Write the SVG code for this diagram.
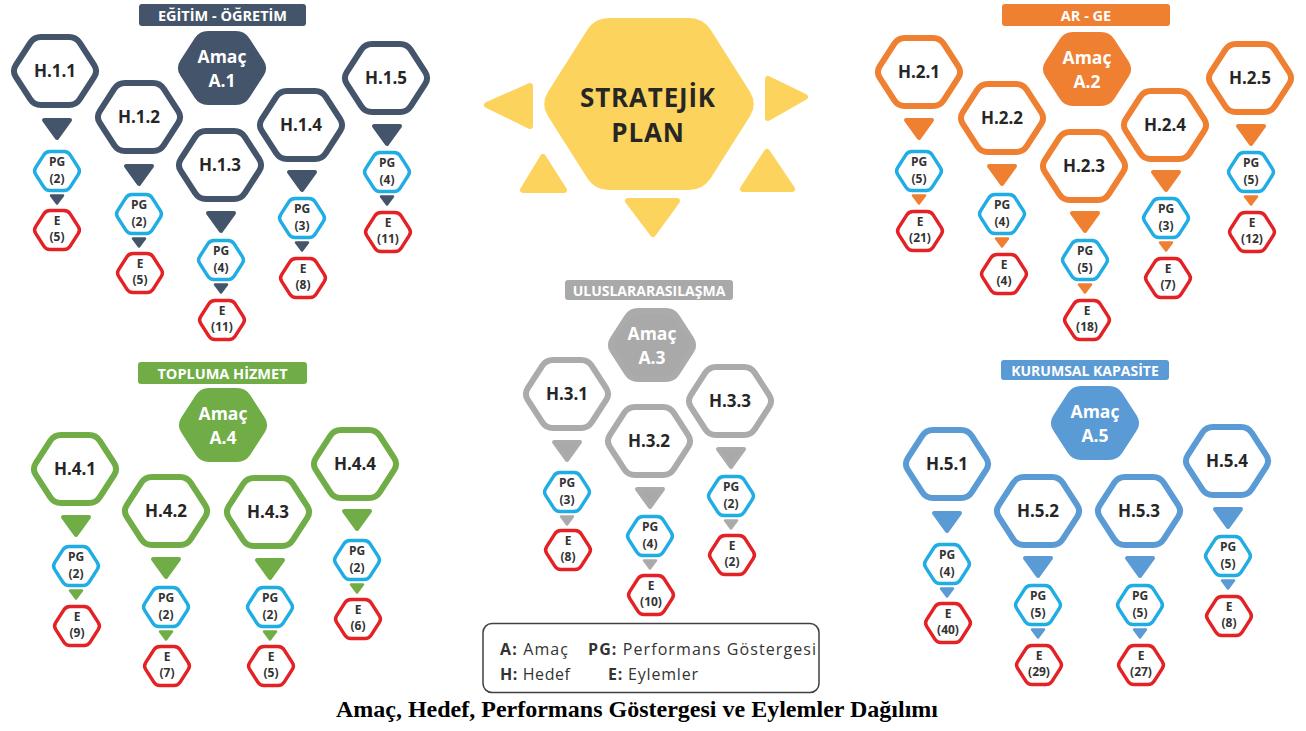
<svg xmlns="http://www.w3.org/2000/svg" xmlns:xlink="http://www.w3.org/1999/xlink" width="1306" height="731" viewBox="0 0 1306 731">
<style>
.hx{fill:#fff;stroke-width:6;stroke-linejoin:round}
.am{stroke-width:6;stroke-linejoin:round}
.pg{fill:#fff;stroke:#1fade4;stroke-width:3.5;stroke-linejoin:round}
.ev{fill:#fff;stroke:#e42226;stroke-width:3.5;stroke-linejoin:round}
.tb{stroke-width:4;stroke-linejoin:round}
.ts{stroke-width:2.5;stroke-linejoin:round}
.c1{stroke:#44546a}.f1{fill:#44546a}
.c2{stroke:#ef7f31}.f2{fill:#ef7f31}
.c3{stroke:#ababab}.f3{fill:#a9a9a9}
.c4{stroke:#70ad47}.f4{fill:#70ad47}
.c5{stroke:#5b9bd5}.f5{fill:#5b9bd5}
text{font-family:"Open Sans","DejaVu Sans",sans-serif;text-anchor:middle}
.ht{font-size:17px;font-weight:bold;fill:#262626}
.at{font-size:17.5px;font-weight:bold;fill:#fff}
.st{font-size:12px;font-weight:bold;fill:#333}
.tt{font-size:14.5px;font-weight:bold;fill:#fff}
.lg{font-size:16px;fill:#333;text-anchor:start}
.lb{font-weight:bold}
.cap{font-family:"Liberation Serif",serif;font-size:24px;font-weight:bold;fill:#000}
</style>
<defs>
<path id="hH" d="M-39.2,-5.9 L-24.8,-28.1 Q-21,-34 -14,-34 L14,-34 Q21,-34 24.8,-28.1 L39.2,-5.9 Q43,0 39.2,5.9 L24.8,28.1 Q21,34 14,34 L-14,34 Q-21,34 -24.8,28.1 L-39.2,5.9 Q-43,0 -39.2,-5.9Z"/>
<path id="hS" d="M-21.34,-3.37 L-13.16,-16.13 Q-11,-19.5 -7,-19.5 L7,-19.5 Q11,-19.5 13.16,-16.13 L21.34,-3.37 Q23.5,0 21.34,3.37 L13.16,16.13 Q11,19.5 7,19.5 L-7,19.5 Q-11,19.5 -13.16,16.13 L-21.34,3.37 Q-23.5,0 -21.34,-3.37Z"/>
<path id="tB" d="M-13,2 L13,2 L0,20Z"/>
<path id="tS" d="M-6,1.5 L6,1.5 L0,9.5Z"/>
</defs>
<rect width="1306" height="731" fill="#fff"/>

<g id="plan">
<path d="M551.43,93.87 L590.57,32.13 Q597,22 609,22 L689,22 Q701,22 707.43,32.13 L746.57,93.87 Q753,104 746.57,114.13 L707.43,175.87 Q701,186 689,186 L609,186 Q597,186 590.57,175.87 L551.43,114.13 Q545,104 551.43,93.87Z" fill="#fcd35c" stroke="#fcd35c" stroke-width="8" stroke-linejoin="round"/>
<g fill="#fcd35c" stroke="#fcd35c" stroke-width="6" stroke-linejoin="round">
<path d="M487,105 L530,86 L530,126Z"/>
<path d="M768,79 L768,118 L805,97Z"/>
<path d="M523,190 L564,190 L543,157Z"/>
<path d="M743,189 L792,189 L767,152Z"/>
<path d="M628,201 L677,201 L653,234Z"/>
</g>
<text x="648" y="107" style="font-size:26px;font-weight:bold;fill:#262626;letter-spacing:0.8px">STRATEJİK</text>
<text x="648" y="142" style="font-size:26px;font-weight:bold;fill:#262626;letter-spacing:0.8px">PLAN</text>
</g>

<g id="connectors">
<use href="#tB" x="57" y="118" class="tb c1 f1"/><use href="#tS" x="57" y="194" class="ts c1 f1"/>
<use href="#tB" x="139" y="164" class="tb c1 f1"/><use href="#tS" x="139" y="237" class="ts c1 f1"/>
<use href="#tB" x="221" y="211" class="tb c1 f1"/><use href="#tS" x="221" y="283" class="ts c1 f1"/>
<use href="#tB" x="302" y="170" class="tb c1 f1"/><use href="#tS" x="302" y="241" class="ts c1 f1"/>
<use href="#tB" x="387" y="124" class="tb c1 f1"/><use href="#tS" x="387" y="195" class="ts c1 f1"/>

<use href="#tB" x="919" y="118" class="tb c2 f2"/><use href="#tS" x="919" y="194" class="ts c2 f2"/>
<use href="#tB" x="1002" y="164" class="tb c2 f2"/><use href="#tS" x="1002" y="237" class="ts c2 f2"/>
<use href="#tB" x="1085" y="211" class="tb c2 f2"/><use href="#tS" x="1085" y="283" class="ts c2 f2"/>
<use href="#tB" x="1166" y="170" class="tb c2 f2"/><use href="#tS" x="1166" y="241" class="ts c2 f2"/>
<use href="#tB" x="1251" y="124" class="tb c2 f2"/><use href="#tS" x="1251" y="195" class="ts c2 f2"/>

<use href="#tB" x="567" y="440" class="tb c3 f3"/><use href="#tS" x="567" y="515" class="ts c3 f3"/>
<use href="#tB" x="650" y="487" class="tb c3 f3"/><use href="#tS" x="650" y="559" class="ts c3 f3"/>
<use href="#tB" x="731" y="447" class="tb c3 f3"/><use href="#tS" x="731" y="519" class="ts c3 f3"/>

<use href="#tB" x="76" y="515" class="tb c4 f4"/><use href="#tS" x="76" y="589" class="ts c4 f4"/>
<use href="#tB" x="166" y="557" class="tb c4 f4"/><use href="#tS" x="166" y="630" class="ts c4 f4"/>
<use href="#tB" x="270" y="558" class="tb c4 f4"/><use href="#tS" x="270" y="630" class="ts c4 f4"/>
<use href="#tB" x="357" y="509" class="tb c4 f4"/><use href="#tS" x="357" y="583" class="ts c4 f4"/>

<use href="#tB" x="947" y="511" class="tb c5 f5"/><use href="#tS" x="947" y="587" class="ts c5 f5"/>
<use href="#tB" x="1038" y="556" class="tb c5 f5"/><use href="#tS" x="1038" y="628" class="ts c5 f5"/>
<use href="#tB" x="1140" y="556" class="tb c5 f5"/><use href="#tS" x="1140" y="628" class="ts c5 f5"/>
<use href="#tB" x="1228" y="507" class="tb c5 f5"/><use href="#tS" x="1228" y="579" class="ts c5 f5"/>
</g>

<!-- Group 1 -->
<g id="title1"><rect x="139" y="4" width="167" height="22" rx="3" class="f1"/><text x="222.5" y="20.5" class="tt">EĞİTİM - ÖĞRETİM</text></g>
<g id="a1"><use href="#hH" x="222" y="68" class="am c1 f1"/><text x="222" y="63" class="at">Amaç</text><text x="222" y="87" class="at">A.1</text></g>
<g id="h11"><use href="#hH" x="55" y="71" class="hx c1"/><text x="55" y="77" class="ht">H.1.1</text></g>
<g id="pg11"><use href="#hS" x="57" y="171" class="pg"/><text x="57" y="166" class="st">PG</text><text x="57" y="183" class="st">(2)</text></g>
<g id="e11"><use href="#hS" x="57" y="230" class="ev"/><text x="57" y="225" class="st">E</text><text x="57" y="241" class="st">(5)</text></g>
<g id="h12"><use href="#hH" x="139" y="117" class="hx c1"/><text x="139" y="123" class="ht">H.1.2</text></g>
<g id="pg12"><use href="#hS" x="139" y="214" class="pg"/><text x="139" y="209" class="st">PG</text><text x="139" y="226" class="st">(2)</text></g>
<g id="e12"><use href="#hS" x="140" y="273" class="ev"/><text x="140" y="268" class="st">E</text><text x="140" y="284" class="st">(5)</text></g>
<g id="h13"><use href="#hH" x="220" y="165" class="hx c1"/><text x="220" y="171" class="ht">H.1.3</text></g>
<g id="pg13"><use href="#hS" x="221" y="260" class="pg"/><text x="221" y="255" class="st">PG</text><text x="221" y="272" class="st">(4)</text></g>
<g id="e13"><use href="#hS" x="222" y="320" class="ev"/><text x="222" y="315" class="st">E</text><text x="222" y="331" class="st">(11)</text></g>
<g id="h14"><use href="#hH" x="301" y="125" class="hx c1"/><text x="301" y="131" class="ht">H.1.4</text></g>
<g id="pg14"><use href="#hS" x="302" y="218" class="pg"/><text x="302" y="213" class="st">PG</text><text x="302" y="230" class="st">(3)</text></g>
<g id="e14"><use href="#hS" x="303" y="278" class="ev"/><text x="303" y="273" class="st">E</text><text x="303" y="289" class="st">(8)</text></g>
<g id="h15"><use href="#hH" x="386" y="78" class="hx c1"/><text x="386" y="84" class="ht">H.1.5</text></g>
<g id="pg15"><use href="#hS" x="387" y="172" class="pg"/><text x="387" y="167" class="st">PG</text><text x="387" y="184" class="st">(4)</text></g>
<g id="e15"><use href="#hS" x="388" y="232" class="ev"/><text x="388" y="227" class="st">E</text><text x="388" y="243" class="st">(11)</text></g>

<!-- Group 2 -->
<g id="title2"><rect x="1002" y="4" width="168" height="22" rx="3" class="f2"/><text x="1086" y="20.5" class="tt">AR - GE</text></g>
<g id="a2"><use href="#hH" x="1087" y="69" class="am c2 f2"/><text x="1087" y="64" class="at">Amaç</text><text x="1087" y="88" class="at">A.2</text></g>
<g id="h21"><use href="#hH" x="919" y="72" class="hx c2"/><text x="919" y="78" class="ht">H.2.1</text></g>
<g id="pg21"><use href="#hS" x="919" y="171" class="pg"/><text x="919" y="166" class="st">PG</text><text x="919" y="183" class="st">(5)</text></g>
<g id="e21"><use href="#hS" x="920" y="231" class="ev"/><text x="920" y="226" class="st">E</text><text x="920" y="242" class="st">(21)</text></g>
<g id="h22"><use href="#hH" x="1002" y="118" class="hx c2"/><text x="1002" y="124" class="ht">H.2.2</text></g>
<g id="pg22"><use href="#hS" x="1002" y="214" class="pg"/><text x="1002" y="209" class="st">PG</text><text x="1002" y="226" class="st">(4)</text></g>
<g id="e22"><use href="#hS" x="1004" y="274" class="ev"/><text x="1004" y="269" class="st">E</text><text x="1004" y="285" class="st">(4)</text></g>
<g id="h23"><use href="#hH" x="1084" y="166" class="hx c2"/><text x="1084" y="172" class="ht">H.2.3</text></g>
<g id="pg23"><use href="#hS" x="1085" y="260" class="pg"/><text x="1085" y="255" class="st">PG</text><text x="1085" y="272" class="st">(5)</text></g>
<g id="e23"><use href="#hS" x="1087" y="320" class="ev"/><text x="1087" y="315" class="st">E</text><text x="1087" y="331" class="st">(18)</text></g>
<g id="h24"><use href="#hH" x="1165" y="125" class="hx c2"/><text x="1165" y="131" class="ht">H.2.4</text></g>
<g id="pg24"><use href="#hS" x="1166" y="218" class="pg"/><text x="1166" y="213" class="st">PG</text><text x="1166" y="230" class="st">(3)</text></g>
<g id="e24"><use href="#hS" x="1168" y="278" class="ev"/><text x="1168" y="273" class="st">E</text><text x="1168" y="289" class="st">(7)</text></g>
<g id="h25"><use href="#hH" x="1250" y="78" class="hx c2"/><text x="1250" y="84" class="ht">H.2.5</text></g>
<g id="pg25"><use href="#hS" x="1251" y="172" class="pg"/><text x="1251" y="167" class="st">PG</text><text x="1251" y="184" class="st">(5)</text></g>
<g id="e25"><use href="#hS" x="1252" y="232" class="ev"/><text x="1252" y="227" class="st">E</text><text x="1252" y="243" class="st">(12)</text></g>

<!-- Group 3 -->
<g id="title3"><rect x="565" y="280" width="168" height="20" rx="3" class="f3"/><text x="649" y="295.5" class="tt" style="font-size:14px">ULUSLARARASILAŞMA</text></g>
<g id="a3"><use href="#hH" x="652" y="345" class="am c3 f3"/><text x="652" y="340" class="at">Amaç</text><text x="652" y="364" class="at">A.3</text></g>
<g id="h31"><use href="#hH" x="567" y="394" class="hx c3"/><text x="567" y="400" class="ht">H.3.1</text></g>
<g id="pg31"><use href="#hS" x="567" y="492" class="pg"/><text x="567" y="487" class="st">PG</text><text x="567" y="504" class="st">(3)</text></g>
<g id="e31"><use href="#hS" x="568" y="550" class="ev"/><text x="568" y="545" class="st">E</text><text x="568" y="561" class="st">(8)</text></g>
<g id="h32"><use href="#hH" x="649" y="441" class="hx c3"/><text x="649" y="447" class="ht">H.3.2</text></g>
<g id="pg32"><use href="#hS" x="650" y="536" class="pg"/><text x="650" y="531" class="st">PG</text><text x="650" y="548" class="st">(4)</text></g>
<g id="e32"><use href="#hS" x="651" y="595" class="ev"/><text x="651" y="590" class="st">E</text><text x="651" y="606" class="st">(10)</text></g>
<g id="h33"><use href="#hH" x="730" y="401" class="hx c3"/><text x="730" y="407" class="ht">H.3.3</text></g>
<g id="pg33"><use href="#hS" x="731" y="496" class="pg"/><text x="731" y="491" class="st">PG</text><text x="731" y="508" class="st">(2)</text></g>
<g id="e33"><use href="#hS" x="732" y="555" class="ev"/><text x="732" y="550" class="st">E</text><text x="732" y="566" class="st">(2)</text></g>

<!-- Group 4 -->
<g id="title4"><rect x="138" y="362" width="169" height="22" rx="3" class="f4"/><text x="222.5" y="378.5" class="tt">TOPLUMA HİZMET</text></g>
<g id="a4"><use href="#hH" x="223" y="425" class="am c4 f4"/><text x="223" y="420" class="at">Amaç</text><text x="223" y="444" class="at">A.4</text></g>
<g id="h41"><use href="#hH" x="75" y="469" class="hx c4"/><text x="75" y="475" class="ht">H.4.1</text></g>
<g id="pg41"><use href="#hS" x="76" y="566" class="pg"/><text x="76" y="561" class="st">PG</text><text x="76" y="578" class="st">(2)</text></g>
<g id="e41"><use href="#hS" x="77" y="626" class="ev"/><text x="77" y="621" class="st">E</text><text x="77" y="637" class="st">(9)</text></g>
<g id="h42"><use href="#hH" x="166" y="511" class="hx c4"/><text x="166" y="517" class="ht">H.4.2</text></g>
<g id="pg42"><use href="#hS" x="166" y="607" class="pg"/><text x="166" y="602" class="st">PG</text><text x="166" y="619" class="st">(2)</text></g>
<g id="e42"><use href="#hS" x="167" y="666" class="ev"/><text x="167" y="661" class="st">E</text><text x="167" y="677" class="st">(7)</text></g>
<g id="h43"><use href="#hH" x="268" y="512" class="hx c4"/><text x="268" y="518" class="ht">H.4.3</text></g>
<g id="pg43"><use href="#hS" x="270" y="607" class="pg"/><text x="270" y="602" class="st">PG</text><text x="270" y="619" class="st">(2)</text></g>
<g id="e43"><use href="#hS" x="271" y="666" class="ev"/><text x="271" y="661" class="st">E</text><text x="271" y="677" class="st">(5)</text></g>
<g id="h44"><use href="#hH" x="355" y="464" class="hx c4"/><text x="355" y="470" class="ht">H.4.4</text></g>
<g id="pg44"><use href="#hS" x="357" y="560" class="pg"/><text x="357" y="555" class="st">PG</text><text x="357" y="572" class="st">(2)</text></g>
<g id="e44"><use href="#hS" x="358" y="619" class="ev"/><text x="358" y="614" class="st">E</text><text x="358" y="630" class="st">(6)</text></g>

<!-- Group 5 -->
<g id="title5"><rect x="1001" y="360" width="168" height="20" rx="3" class="f5"/><text x="1085" y="375.5" class="tt" style="font-size:14px">KURUMSAL KAPASİTE</text></g>
<g id="a5"><use href="#hH" x="1095" y="423" class="am c5 f5"/><text x="1095" y="418" class="at">Amaç</text><text x="1095" y="442" class="at">A.5</text></g>
<g id="h51"><use href="#hH" x="947" y="464" class="hx c5"/><text x="947" y="470" class="ht">H.5.1</text></g>
<g id="pg51"><use href="#hS" x="947" y="564" class="pg"/><text x="947" y="559" class="st">PG</text><text x="947" y="576" class="st">(4)</text></g>
<g id="e51"><use href="#hS" x="948" y="623" class="ev"/><text x="948" y="618" class="st">E</text><text x="948" y="634" class="st">(40)</text></g>
<g id="h52"><use href="#hH" x="1038" y="511" class="hx c5"/><text x="1038" y="517" class="ht">H.5.2</text></g>
<g id="pg52"><use href="#hS" x="1038" y="605" class="pg"/><text x="1038" y="600" class="st">PG</text><text x="1038" y="617" class="st">(5)</text></g>
<g id="e52"><use href="#hS" x="1039" y="665" class="ev"/><text x="1039" y="660" class="st">E</text><text x="1039" y="676" class="st">(29)</text></g>
<g id="h53"><use href="#hH" x="1139" y="511" class="hx c5"/><text x="1139" y="517" class="ht">H.5.3</text></g>
<g id="pg53"><use href="#hS" x="1140" y="605" class="pg"/><text x="1140" y="600" class="st">PG</text><text x="1140" y="617" class="st">(5)</text></g>
<g id="e53"><use href="#hS" x="1141" y="665" class="ev"/><text x="1141" y="660" class="st">E</text><text x="1141" y="676" class="st">(27)</text></g>
<g id="h54"><use href="#hH" x="1227" y="461" class="hx c5"/><text x="1227" y="467" class="ht">H.5.4</text></g>
<g id="pg54"><use href="#hS" x="1228" y="556" class="pg"/><text x="1228" y="551" class="st">PG</text><text x="1228" y="568" class="st">(5)</text></g>
<g id="e54"><use href="#hS" x="1229" y="616" class="ev"/><text x="1229" y="611" class="st">E</text><text x="1229" y="627" class="st">(8)</text></g>

<g id="legend">
<rect x="483" y="623.5" width="336" height="69" rx="9" fill="#fff" stroke="#404040" stroke-width="1.5"/>
<text x="500" y="655" class="lg" textLength="68" lengthAdjust="spacing"><tspan class="lb">A:</tspan> Amaç</text>
<text x="588" y="655" class="lg" textLength="228" lengthAdjust="spacing"><tspan class="lb">PG:</tspan> Performans Göstergesi</text>
<text x="500" y="680" class="lg" textLength="70" lengthAdjust="spacing"><tspan class="lb">H:</tspan> Hedef</text>
<text x="608" y="680" class="lg" textLength="90" lengthAdjust="spacing"><tspan class="lb">E:</tspan> Eylemler</text>
</g>
<text x="637" y="717" class="cap">Amaç, Hedef, Performans Göstergesi ve Eylemler Dağılımı</text>
</svg>
